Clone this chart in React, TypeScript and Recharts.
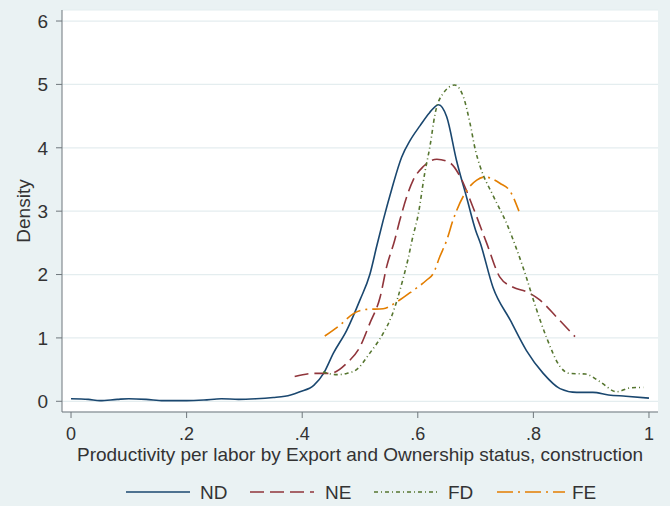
import React from "react"
import { LineChart, Line, XAxis, YAxis, CartesianGrid } from "recharts"

// kernel density estimates
const ND_X = [0, 0.03, 0.05, 0.08, 0.1, 0.13, 0.16, 0.2, 0.23, 0.26, 0.29, 0.32, 0.35, 0.37, 0.38, 0.396, 0.42, 0.437, 0.454, 0.477, 0.5, 0.517, 0.529, 0.54, 0.555, 0.572, 0.587, 0.604, 0.62, 0.636, 0.65, 0.667, 0.685, 0.7, 0.708, 0.73, 0.76, 0.788, 0.817, 0.846, 0.875, 0.903, 0.93, 0.96, 1.0]
const ND_Y = [0.04, 0.03, 0.01, 0.03, 0.04, 0.03, 0.01, 0.01, 0.02, 0.04, 0.03, 0.04, 0.06, 0.08, 0.1, 0.15, 0.25, 0.44, 0.76, 1.12, 1.6, 2.0, 2.45, 2.85, 3.35, 3.85, 4.12, 4.35, 4.55, 4.68, 4.49, 3.8, 3.2, 2.7, 2.5, 1.8, 1.28, 0.8, 0.44, 0.2, 0.14, 0.14, 0.1, 0.08, 0.05]

const NE_X = [0.387, 0.42, 0.448, 0.477, 0.5, 0.517, 0.535, 0.546, 0.56, 0.569, 0.592, 0.609, 0.633, 0.656, 0.673, 0.696, 0.719, 0.742, 0.765, 0.788, 0.811, 0.84, 0.872]
const NE_Y = [0.39, 0.44, 0.44, 0.6, 0.86, 1.23, 1.65, 2.12, 2.54, 2.86, 3.49, 3.7, 3.82, 3.76, 3.55, 3.05, 2.5, 1.96, 1.8, 1.73, 1.6, 1.33, 1.02]

const FD_X = [0.436, 0.46, 0.477, 0.494, 0.517, 0.54, 0.555, 0.575, 0.584, 0.59, 0.601, 0.612, 0.621, 0.63, 0.644, 0.664, 0.679, 0.69, 0.7, 0.708, 0.73, 0.754, 0.771, 0.788, 0.8, 0.823, 0.846, 0.863, 0.89, 0.915, 0.944, 0.967, 0.99]
const FD_Y = [0.46, 0.42, 0.44, 0.5, 0.76, 1.07, 1.35, 1.95, 2.28, 2.54, 2.96, 3.6, 4.02, 4.54, 4.86, 4.99, 4.8, 4.4, 3.95, 3.7, 3.25, 2.8, 2.4, 1.95, 1.6, 1.0, 0.55, 0.44, 0.43, 0.31, 0.15, 0.21, 0.22]

const FE_X = [0.439, 0.465, 0.488, 0.512, 0.54, 0.564, 0.592, 0.615, 0.627, 0.638, 0.65, 0.661, 0.685, 0.702, 0.716, 0.742, 0.76, 0.775]
const FE_Y = [1.03, 1.2, 1.38, 1.45, 1.46, 1.57, 1.75, 1.91, 2.02, 2.28, 2.54, 2.86, 3.33, 3.49, 3.54, 3.44, 3.31, 3.0]

const X_TICKS = [0, 0.2, 0.4, 0.6, 0.8, 1]
const Y_TICKS = [0, 1, 2, 3, 4, 5, 6]

const SERIES = [
  { name: "ND", xs: ND_X, ys: ND_Y, color: "#1a476f", dash: undefined },
  { name: "NE", xs: NE_X, ys: NE_Y, color: "#90353b", dash: "14 6" },
  { name: "FD", xs: FD_X, ys: FD_Y, color: "#55752f", dash: "4 3 1 3" },
  { name: "FE", xs: FE_X, ys: FE_Y, color: "#e37e00", dash: "16 5 2 5" },
]

const FONT = "'Liberation Sans', Arial, sans-serif"
const TEXT = "#333"
const AXIS = "#6f777c"

const toRows = (xs: number[], ys: number[]) => xs.map((x, i) => ({ x, y: ys[i] }))

const fmtX = (v: number) => (v === 0 ? "0" : v === 1 ? "1" : String(v).replace("0.", "."))

// legend sample positions (line start, line end, label start)
const LEGEND_POS = [
  [126, 190, 200],
  [250, 314, 325],
  [374, 440, 448],
  [497, 565, 572],
]

export default function App() {
  return (
    <div
      style={{
        position: "absolute",
        left: 0,
        top: 0,
        width: 670,
        height: 506,
        background: "#eaf2f3",
        fontFamily: FONT,
      }}
    >
      <LineChart
        width={670}
        height={506}
        margin={{ top: 10, right: 12, left: 22, bottom: 34 }}
      >
        <CartesianGrid
          horizontal
          vertical={false}
          fill="#ffffff"
          stroke="#e4edef"
          strokeWidth={1.2}
        />
        <XAxis
          type="number"
          dataKey="x"
          domain={[-0.0156, 1.0156]}
          ticks={X_TICKS}
          allowDataOverflow
          height={60}
          tickSize={6}
          tickMargin={9}
          tickFormatter={fmtX}
          stroke={AXIS}
          tick={{ fill: TEXT, fontSize: 18, fontFamily: FONT }}
          label={{
            content: ({ viewBox }: any) => (
              <text
                x={viewBox.x + viewBox.width / 2}
                y={viewBox.y + 49}
                textAnchor="middle"
                fill={TEXT}
                fontSize={19}
                fontFamily={FONT}
              >
                Productivity per labor by Export and Ownership status, construction
              </text>
            ),
          }}
        />
        <YAxis
          type="number"
          domain={[-0.169, 6.174]}
          ticks={Y_TICKS}
          allowDataOverflow
          width={40}
          tickSize={6}
          tickMargin={8}
          stroke={AXIS}
          tick={{ fill: TEXT, fontSize: 19, fontFamily: FONT }}
          label={{
            content: ({ viewBox }: any) => {
              const cy = viewBox.y + viewBox.height / 2
              return (
                <text
                  x={23}
                  y={cy}
                  dy="0.36em"
                  transform={`rotate(-90 23 ${cy})`}
                  textAnchor="middle"
                  fill={TEXT}
                  fontSize={19}
                  fontFamily={FONT}
                >
                  Density
                </text>
              )
            },
          }}
        />
        {SERIES.map((s) => (
          <Line
            key={s.name}
            data={toRows(s.xs, s.ys)}
            dataKey="y"
            name={s.name}
            type="monotone"
            stroke={s.color}
            strokeWidth={1.6}
            strokeDasharray={s.dash}
            dot={false}
            isAnimationActive={false}
          />
        ))}
      </LineChart>
      <svg
        width={670}
        height={30}
        style={{ position: "absolute", left: 0, top: 477 }}
      >
        {SERIES.map((s, i) => {
          const [x1, x2, tx] = LEGEND_POS[i]
          return (
            <g key={s.name}>
              <line x1={x1} x2={x2} y1={15} y2={15} stroke={s.color} strokeWidth={1.6} strokeDasharray={s.dash} />
              <text x={tx} y={15} dy="0.36em" fill={TEXT} fontSize={19} fontFamily={FONT}>
                {s.name}
              </text>
            </g>
          )
        })}
      </svg>
    </div>
  )
}
